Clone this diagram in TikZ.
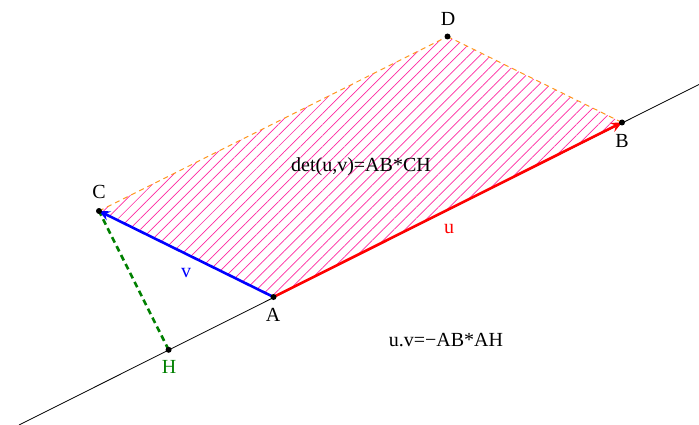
\documentclass[tikz,border=0pt]{standalone}
\usepackage{fontspec}
\setmainfont{Liberation Serif}
\usetikzlibrary{patterns.meta,arrows.meta}
\definecolor{hatchc}{RGB}{255,40,160}
\definecolor{orangec}{RGB}{255,150,30}
\definecolor{greenc}{RGB}{0,128,0}
\tikzset{
  lbl/.style={font=\fontsize{20}{22}\selectfont, inner sep=0pt},
  pt/.style={circle, fill=black, inner sep=0pt, minimum size=6pt},
  vec/.style={line width=2.6pt, -{Stealth[length=11pt,width=10pt,inset=4pt]}},
  side/.style={orangec, line width=1pt, dash pattern=on 5pt off 4pt},
}
\begin{document}
\begin{tikzpicture}[x=1pt,y=-1pt]
\useasboundingbox (0,0) rectangle (699,425);
\coordinate (A) at (273.5,297);
\coordinate (B) at (622,122.5);
\coordinate (C) at (99,211);
\coordinate (D) at (447.5,36.5);
\coordinate (H) at (168.6,349.8);
\coordinate (L1) at (19,425);
\coordinate (L2) at (699,84.5);
% hatch
\path[pattern={Lines[angle=45,distance=7.8pt,line width=0.7pt]}, pattern color=hatchc] (A) -- (B) -- (D) -- (C) -- cycle;
% sides
\draw[side] (C) -- (D);
\draw[side] (D) -- (B);
% line AB
\draw[line width=0.8pt] (L1) -- (L2);
% height
\draw[greenc, line width=2.6pt, dash pattern=on 6pt off 4pt] (H) -- (C);
% vectors
\draw[vec, blue] (A) -- (C);
\draw[vec, red] (A) -- (B);
% points
\node[pt] (pA) at (A) {};
\node[pt] (pB) at (B) {};
\node[pt] (pC) at (C) {};
\node[pt] (pD) at (D) {};
\node[pt] (pH) at (H) {};
% labels
\node[lbl] (tA) at (273,315) {A};
\node[lbl] (tB) at (622,141) {B};
\node[lbl] (tC) at (99,192) {C};
\node[lbl] (tD) at (448,19) {D};
\node[lbl, text=greenc] (tH) at (169,367) {H};
\node[lbl, text=red] (tu) at (449,229) {u};
\node[lbl, text=blue] (tv) at (186,273) {v};
\node[lbl] (tdet) at (361,167) {det(u,v)=AB*CH};
\node[lbl] (tuv) at (446,340) {u.v=−AB*AH};
\end{tikzpicture}
\end{document}
